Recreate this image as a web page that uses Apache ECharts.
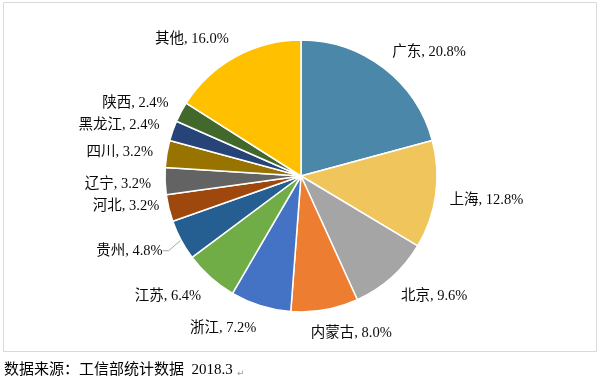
<!DOCTYPE html>
<html>
<head>
<meta charset="utf-8">
<script src="https://cdn.jsdelivr.net/npm/echarts@6/dist/echarts.min.js"></script>
<style>html,body{margin:0;padding:0;background:#fff;}#c{width:600px;height:382px;}</style>
</head>
<body>
<div id="c"></div>
<script>
var categories = ['广东','上海','北京','内蒙古','浙江','江苏','贵州','河北','辽宁','四川','黑龙江','陕西','其他'];
var shares = [20.8,12.8,9.6,8.0,7.2,6.4,4.8,3.2,3.2,3.2,2.4,2.4,16.0];
var colors = ['#4A87A8','#F0C55C','#A5A5A5','#ED7D31','#4472C4','#70AD47','#255E91','#9E480E','#636363','#997300','#264478','#43682B','#FFC000'];
var leaderItems = ['贵州'];
var sourceText = '数据来源：工信部统计数据  2018.3';

// label placement tweaks (labels shifted to avoid overlap, as in the original)
var labelNudge = {'河北':[4,-9], '贵州':[-6,-2]};

var CX = 301, CY = 176, R = 136, LABEL_R = 150;
var total = shares.reduce(function(a,b){return a+b;},0);
var cum = [];
(function(){var s=0;for(var i=0;i<shares.length;i++){cum.push(s+shares[i]/2);s+=shares[i];}})();
function clamp(v){return Math.max(-1,Math.min(1,v));}

var FONT = '"Liberation Serif","Noto Sans CJK SC",serif';
var data = categories.map(function(n,i){
  var lead = leaderItems.indexOf(n) >= 0;
  return {name:n, value:shares[i], itemStyle:{color:colors[i]},
          labelLine:{show:lead}};
});

var chart = echarts.init(document.getElementById('c'), null, {renderer:'canvas'});
chart.setOption({
  backgroundColor:'#ffffff',
  animation:false,
  graphic:[
    {type:'rect', shape:{x:3.5,y:2.5,width:593,height:349}, style:{fill:'none',stroke:'#D9D9D9',lineWidth:1}, silent:true},
    {type:'text', left:4, top:363, style:{text:sourceText, font:'15px ' + FONT, fill:'#000'}},
    {type:'text', left:237, top:369, style:{text:'↵', font:'9px "DejaVu Sans"', fill:'#999'}}
  ],
  series:[{
    type:'pie',
    center:[CX,CY],
    radius:[0,R],
    startAngle:90,
    clockwise:true,
    avoidLabelOverlap:false,
    itemStyle:{borderColor:'#fff', borderWidth:1.5},
    label:{
      show:true,
      position:'outside',
      fontFamily:FONT,
      fontSize:14.5,
      color:'#0a0a0a',
      formatter:function(p){return p.name + ', ' + p.value.toFixed(1) + '%';}
    },
    labelLine:{show:true, length:8, length2:6, lineStyle:{color:'#A6A6A6', width:1}},
    labelLayout:function(p){
      var i = p.dataIndex;
      var th = cum[i]/total*2*Math.PI;
      var s = Math.sin(th), c = Math.cos(th);
      var px = CX + LABEL_R*s, py = CY - LABEL_R*c;
      var w = p.labelRect.width, h = p.labelRect.height;
      var cx = px + w/2*clamp(s*3.4);
      var cy = py + h/2*clamp(-c*1.2) + 2;
      var nd = labelNudge[categories[i]];
      if (nd) { cx += nd[0]; cy += nd[1]; }
      return {x:cx, y:cy, align:'center', verticalAlign:'middle'};
    },
    data:data
  }]
});
</script>
</body>
</html>
